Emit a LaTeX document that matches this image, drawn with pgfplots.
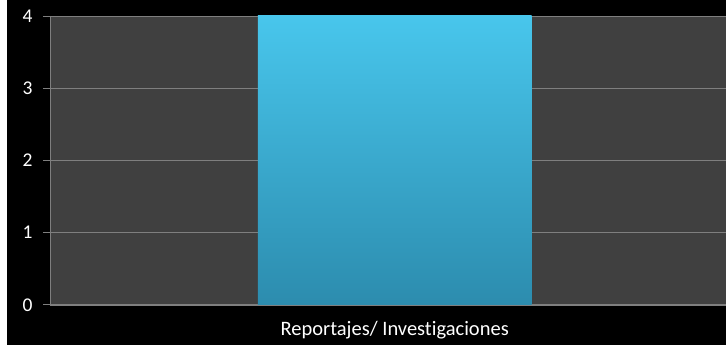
\documentclass[border=0pt]{standalone}
\usepackage{pgfplots}
\pgfplotsset{compat=1.18}
\usepackage{fontspec}
\setmainfont{Carlito}[Ligatures=NoCommon]

\definecolor{plotbg}{HTML}{404040}
\definecolor{gridc}{HTML}{7F7F7F}
\definecolor{bartop}{HTML}{48C6EC}
\definecolor{barbot}{HTML}{2C8CAE}

\begin{document}
\begin{tikzpicture}[x=1pt,y=1pt]
    % page background: thin white strip then black
    \fill[white] (0,0) rectangle (726,345);
    \fill[black] (7,0) rectangle (726,345);
    \begin{axis}[
        at={(50pt,40pt)},
        anchor=south west,
        scale only axis,
        width=676pt,
        height=289pt,
        xmin=-0.5, xmax=0.48,
        ymin=0, ymax=4,
        ytick={0,1,2,3,4},
        xtick={0},
        xticklabels={Reportajes/ Investigaciones},
        axis lines*=left,
        axis line style={gridc, line width=0.8pt},
        axis background/.style={fill=plotbg},
        ymajorgrids=true,
        grid style={gridc, line width=0.6pt},
        tick style={gridc, line width=0.8pt},
        xtick style={draw=none},
        tick align=outside,
        major tick length=7pt,
        ticklabel style={white},
        yticklabel style={font=\fontsize{19.5}{22}\selectfont, xshift=-7pt},
        xticklabel style={font=\fontsize{20.5}{23}\selectfont, yshift=-6pt},
        /pgf/number format/assume math mode=true,
    ]
    \addplot[ybar, bar width=274pt, draw=none,
        top color=bartop, bottom color=barbot]
        coordinates {(0,4)};
    \end{axis}
\end{tikzpicture}
\end{document}
